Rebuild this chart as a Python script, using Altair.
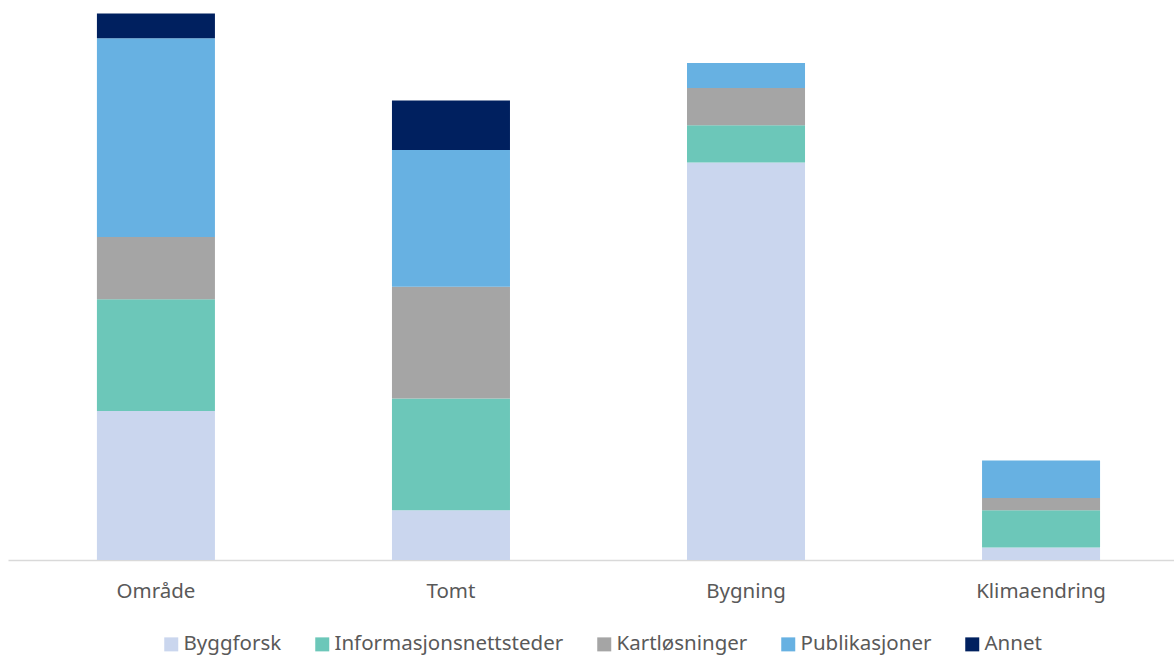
import altair as alt
import pandas as pd

categories = ["Område", "Tomt", "Bygning", "Klimaendring"]
series = ["Byggforsk", "Informasjonsnettsteder", "Kartløsninger", "Publikasjoner", "Annet"]
colors = ["#cad6ee", "#6cc7b9", "#a5a5a5", "#67b1e2", "#00205f"]

byggforsk = [12, 4, 32, 1]
informasjon = [9, 9, 3, 3]
kart = [5, 9, 3, 1]
publikasjoner = [16, 11, 2, 3]
annet = [2, 4, 0, 0]

values = [byggforsk, informasjon, kart, publikasjoner, annet]
rows = []
for si, (name, vals) in enumerate(zip(series, values)):
    for cat, v in zip(categories, vals):
        rows.append({"kategori": cat, "kilde": name, "antall": v, "rekkefolge": si})
df = pd.DataFrame(rows)

font = "Noto Sans"
text_color = "#595959"

chart = (
    alt.Chart(df)
    .mark_bar()
    .encode(
        x=alt.X(
            "kategori:N",
            sort=categories,
            title=None,
            scale=alt.Scale(paddingInner=0.6, paddingOuter=0.276, align=0.546),
            axis=alt.Axis(
                labelAngle=0,
                labelFont=font,
                labelFontSize=20.5,
                labelColor=text_color,
                labelPadding=21,
                ticks=False,
                domainColor="#d9d9d9",
                domainWidth=1.5,
            ),
        ),
        y=alt.Y(
            "antall:Q",
            stack="zero",
            scale=alt.Scale(domain=[0, 45], nice=False),
            axis=None,
        ),
        color=alt.Color(
            "kilde:N",
            sort=series,
            scale=alt.Scale(domain=series, range=colors),
            legend=alt.Legend(
                title=None,
                orient="none",
                direction="horizontal",
                legendX=153,
                legendY=633,
                padding=0,
                symbolType="square",
                symbolSize=196,
                symbolStrokeWidth=0,
                labelFont=font,
                labelFontSize=20.5,
                labelColor=text_color,
                labelLimit=0,
                columnPadding=30,
                labelOffset=2,
            ),
        ),
        order=alt.Order("rekkefolge:Q", sort="ascending"),
    )
    .properties(
        width=1166,
        height=559,
        padding={"left": 8, "top": 1, "right": 0, "bottom": 96},
        autosize=alt.AutoSizeParams(type="none"),
    )
    .configure_view(stroke=None)
)

chart.save("out.html", embed_options={"renderer": "svg", "actions": False})
